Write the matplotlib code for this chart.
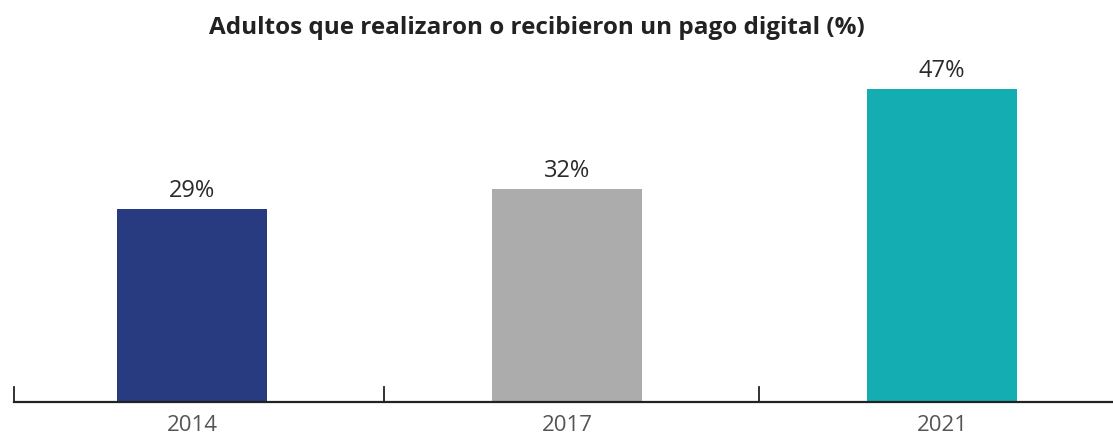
import matplotlib.pyplot as plt

plt.rcParams['font.family'] = ['Open Sans', 'DejaVu Sans']

years = ['2014', '2017', '2021']
values = [29, 32, 47]
colors = ['#283a80', '#abacab', '#13adb2']

W, H = 1113, 437
fig = plt.figure(figsize=(W / 100, H / 100), dpi=100)

# one category every 375 px, first centred at x=192
step = 375
x0 = -0.475
left = 14
bottom = 402
top = 69
ax = fig.add_axes([left / W, (H - bottom) / H, (W - left) / W, (bottom - top) / H])

x = range(len(years))
ax.bar(x, values, width=150 / step, color=colors, zorder=2)
for xi, v in zip(x, values):
    ax.annotate(f'{v}%', (xi, v), xytext=(0, 8.8), textcoords='offset points',
                ha='center', va='baseline', fontsize=17, color='#2a2a2a')

ax.set_xlim(x0, x0 + (W - left) / step)
ax.set_ylim(0, 50)
ax.set_xticks(list(x))
ax.set_xticklabels(years, fontsize=16, color='#555555')
ax.tick_params(axis='x', length=0, pad=9.5)
ax.set_yticks([])
for side in ['left', 'right', 'top']:
    ax.spines[side].set_visible(False)
ax.spines['bottom'].set_linewidth(1.6)
ax.spines['bottom'].set_color('#222222')

# separator ticks between the categories
for b in [x0, 0.512, 1.512]:
    ax.plot([b, b], [0, 2.25], color='#222222', lw=1.3, clip_on=False, zorder=3)

fig.text(537 / W, 1 - 34 / H, 'Adultos que realizaron o recibieron un pago digital (%)',
         ha='center', va='baseline', fontsize=17.5, fontweight='bold', color='#222222')

fig.savefig('out.png', dpi=100)
